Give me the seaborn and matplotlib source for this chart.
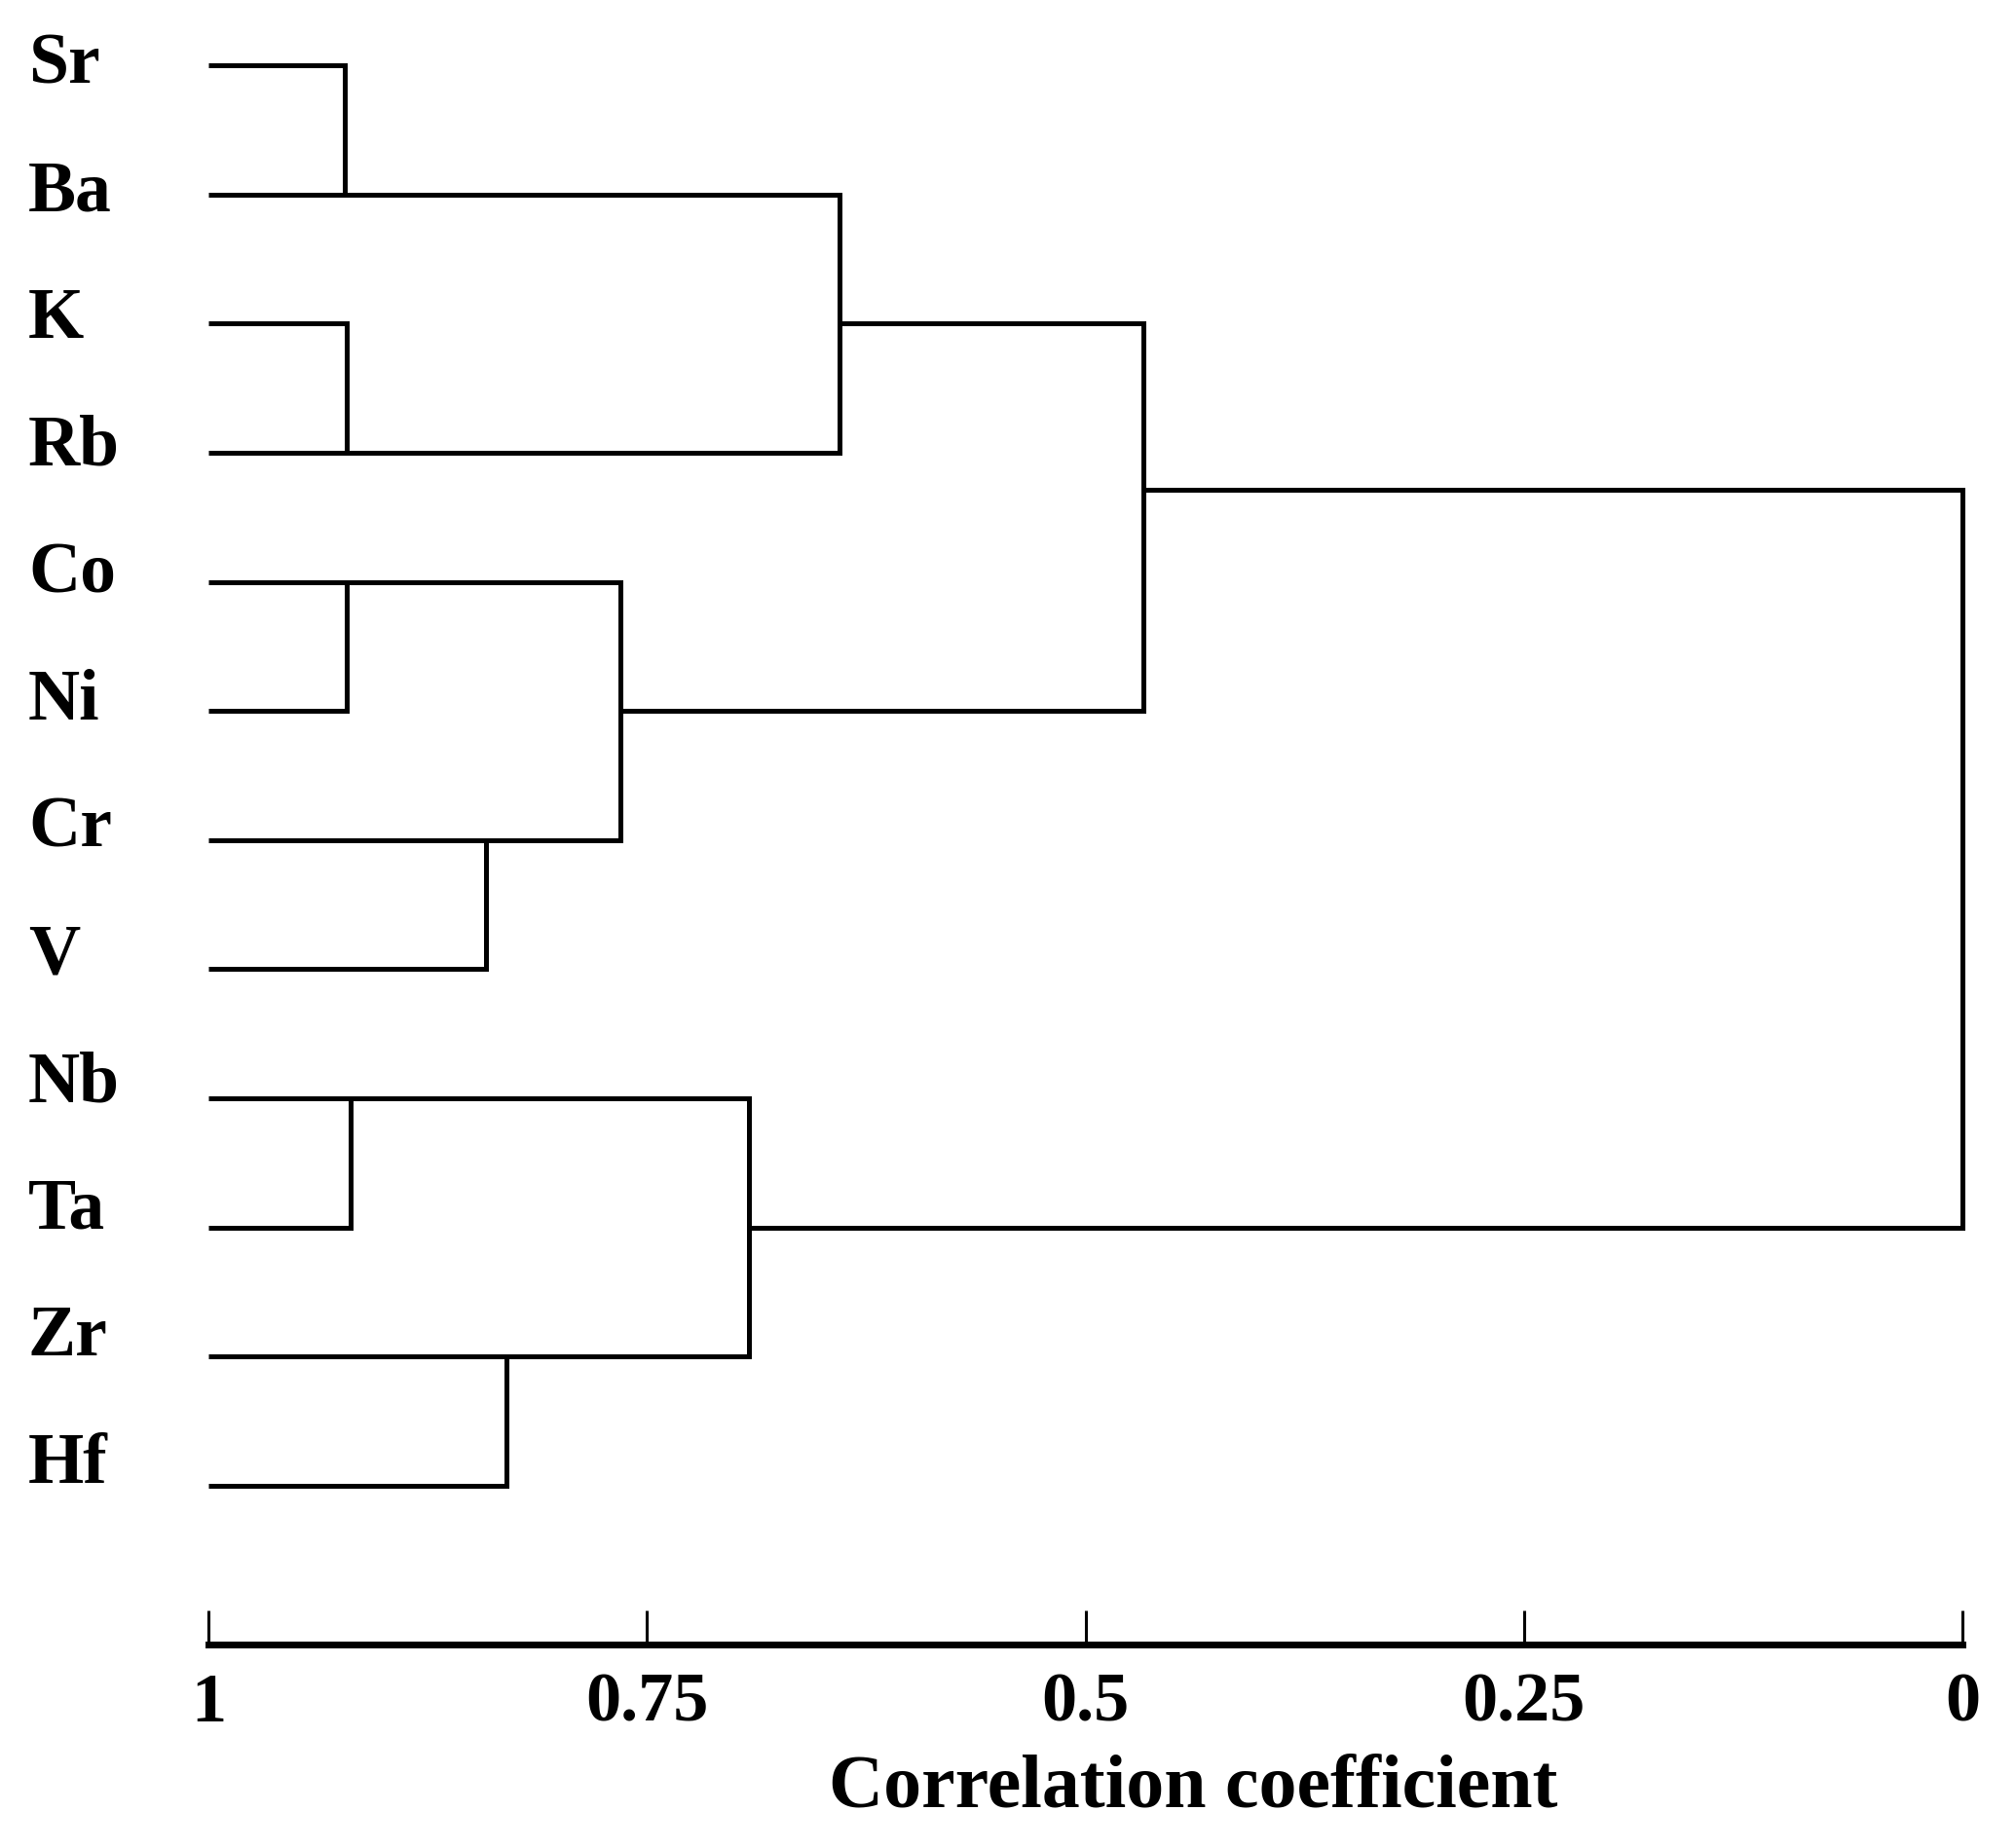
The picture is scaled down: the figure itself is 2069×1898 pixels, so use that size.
import numpy as np
import pandas as pd
import matplotlib
matplotlib.use("Agg")
import matplotlib.pyplot as plt
import matplotlib.transforms as mtransforms
import seaborn as sns

# ---------------- data ----------------
leaves = ["Sr", "Ba", "K", "Rb", "Co", "Ni", "Cr", "V", "Nb", "Ta", "Zr", "Hf"]

# merges (scipy-like numbering: leaves 0..11, new clusters 12..22)
merge_a = [0, 2, 4, 6, 8, 10, 12, 14, 16, 18, 21]
merge_b = [1, 3, 5, 7, 9, 11, 13, 15, 17, 19, 20]
merge_r = [0.922, 0.921, 0.921, 0.842, 0.919, 0.830, 0.640, 0.765, 0.692, 0.467, 0.0]
# where the cluster's outgoing branch leaves its vertical bar (0 = top child, 1 = bottom child)
merge_attach = [1.0, 1.0, 0.0, 0.0, 0.0, 0.0, 0.5, 0.5, 0.5, 0.43, 0.5]

xticks = [1, 0.75, 0.5, 0.25, 0]
xtick_labels = ["1", "0.75", "0.5", "0.25", "0"]
xlabel = "Correlation coefficient"

# ---------------- build segments ----------------
node_x = {i: 1.0 for i in range(len(leaves))}
node_y = {i: float(i) for i in range(len(leaves))}
rows = []
for k, (a, b, r, att) in enumerate(zip(merge_a, merge_b, merge_r, merge_attach)):
    ya, yb = node_y[a], node_y[b]
    pts = [(node_x[a], ya), (r, ya), (r, yb), (node_x[b], yb)]
    for j, (px, py) in enumerate(pts):
        rows.append({"x": px, "y": py, "seg": k, "order": j})
    nid = len(leaves) + k
    node_x[nid] = r
    node_y[nid] = ya + att * (yb - ya)
df = pd.DataFrame(rows)

# ---------------- figure ----------------
sns.set_theme(style="white")
plt.rcParams["font.family"] = ["Liberation Serif", "DejaVu Serif"]
plt.rcParams["font.weight"] = "bold"
plt.rcParams["text.color"] = "black"
plt.rcParams["xtick.color"] = "black"
plt.rcParams["axes.labelcolor"] = "black"

W, H, DPI = 2069, 1899, 100
fig = plt.figure(figsize=(W / DPI, H / DPI), dpi=DPI, facecolor="white")
ax_left, ax_right = 214 / W, 2015 / W
ax_bottom_px, ax_top_px = 1690, 0
ax = fig.add_axes([ax_left, 1 - ax_bottom_px / H, ax_right - ax_left, (ax_bottom_px - ax_top_px) / H])
ax.set_facecolor("white")

sns.lineplot(data=df, x="x", y="y", units="seg", estimator=None, sort=False,
             color="black", linewidth=3.6, ax=ax, legend=False)
for ln in ax.lines:
    ln.set_solid_joinstyle("miter")
    ln.set_solid_capstyle("butt")
    ln.set_clip_on(False)

step_px = (1527 - 68) / 11
ax.set_xlim(1, 0)
ax.set_ylim((ax_bottom_px - 68) / step_px, (ax_top_px - 68) / step_px)

for s in ["left", "top", "right"]:
    ax.spines[s].set_visible(False)
ax.spines["bottom"].set_linewidth(5)
ax.spines["bottom"].set_color("black")

ax.set_xticks(xticks)
ax.set_xticklabels(xtick_labels, fontsize=52, fontweight="bold", color="black")
ax.tick_params(axis="x", which="major", bottom=True, direction="in", length=25,
               width=2.2, color="black", pad=20)
ax.set_yticks([])
ax.set_ylabel("")
ax.set_xlabel(xlabel, fontsize=56, fontweight="bold", color="black")
ax.xaxis.set_label_coords((1225 - 214) / (2015 - 214), -(1837 - 1690) / 1690)
ax.xaxis.label.set_va("center")

# leaf labels
trans = mtransforms.blended_transform_factory(fig.transFigure, ax.transData)
for i, name in enumerate(leaves):
    ax.text(29 / W, i - 0.015 * i, name, transform=trans, ha="left", va="center",
            fontsize=53, fontweight="bold", color="black")

fig.savefig("out.png", dpi=DPI, facecolor="white")
